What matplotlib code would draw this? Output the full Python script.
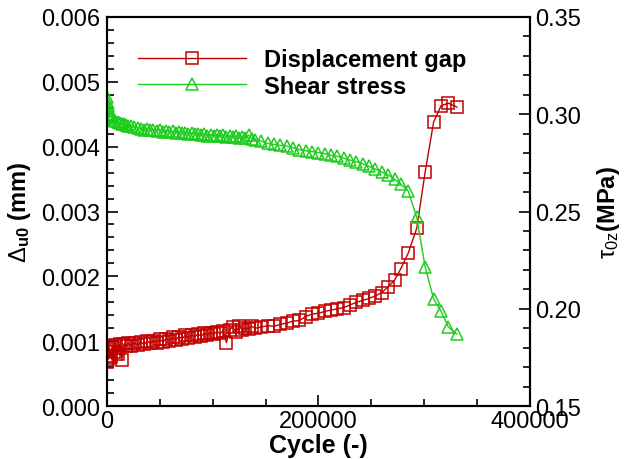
import matplotlib
matplotlib.use('Agg')
import matplotlib.pyplot as plt
from matplotlib.ticker import MultipleLocator, FormatStrFormatter

plt.rcParams['font.family'] = ['Liberation Sans', 'DejaVu Sans']
plt.rcParams['mathtext.fontset'] = 'custom'
plt.rcParams['mathtext.rm'] = 'Liberation Sans'
plt.rcParams['mathtext.it'] = 'Liberation Sans:italic'
plt.rcParams['mathtext.bf'] = 'Liberation Sans:bold'

# Cycle count for each recorded point
cycles = [0, 500, 1000, 1500, 2000, 3000, 4000, 5000, 6500, 8000,
          10000, 12000, 14000, 16000, 18000, 20000, 23000, 26000, 29000, 32000,
          35000, 38000, 41000, 44000, 47000, 50000, 53000, 56000, 59000, 62000,
          65000, 68000, 71000, 74000, 77000, 80000, 83000, 86000, 89000, 92000,
          95000, 98000, 101000, 104000, 107000, 110000, 113000, 116000, 119000, 122000,
          125000, 128000, 131000, 134000, 137000, 140000, 146000, 152000, 158000, 164000,
          170000, 176000, 182000, 188000, 194000, 200000, 206000, 212000, 218000, 224000,
          230000, 236000, 242000, 248000, 254000, 260000, 266000, 272000, 278000, 285000,
          293000, 301000, 309000, 316000, 323000, 331000]

# Displacement gap (mm)
gap = [0.00068, 0.00085, 0.00072, 0.00090, 0.00078, 0.00088, 0.00075, 0.00092, 0.00083, 0.00094,
       0.00080, 0.00095, 0.00071, 0.00096, 0.00092, 0.00097, 0.00093, 0.00098, 0.00094, 0.00099,
       0.00095, 0.00100, 0.00097, 0.00101, 0.00098, 0.00103, 0.00099, 0.00104, 0.00101, 0.00106,
       0.00102, 0.00107, 0.00104, 0.00109, 0.00105, 0.00110, 0.00107, 0.00111, 0.00108, 0.00112,
       0.00110, 0.00113, 0.00111, 0.00115, 0.00112, 0.00116, 0.00098, 0.00118, 0.00122, 0.00114,
       0.00124, 0.00117, 0.00121, 0.00119, 0.00123, 0.00120, 0.00122, 0.00124, 0.00123, 0.00126,
       0.00128, 0.00131, 0.00132, 0.00138, 0.00142, 0.00143, 0.00146, 0.00148, 0.00150, 0.00152,
       0.00156, 0.00160, 0.00163, 0.00166, 0.00170, 0.00175, 0.00184, 0.00194, 0.00212, 0.00236,
       0.00274, 0.00361, 0.00438, 0.00463, 0.00467, 0.00461]

# Shear stress (MPa)
stress = [0.3090, 0.3060, 0.3040, 0.3020, 0.3000, 0.2990, 0.2985, 0.2980, 0.2970, 0.2965,
          0.2960, 0.2955, 0.2950, 0.2948, 0.2945, 0.2940, 0.2937, 0.2933, 0.2930, 0.2926,
          0.2920, 0.2924, 0.2917, 0.2921, 0.2914, 0.2918, 0.2911, 0.2915, 0.2908, 0.2912,
          0.2905, 0.2909, 0.2902, 0.2906, 0.2899, 0.2903, 0.2896, 0.2900, 0.2893, 0.2897,
          0.2890, 0.2895, 0.2888, 0.2893, 0.2886, 0.2891, 0.2884, 0.2889, 0.2881, 0.2886,
          0.2879, 0.2884, 0.2877, 0.2893, 0.2874, 0.2870, 0.2862, 0.2850, 0.2845, 0.2840,
          0.2836, 0.2828, 0.2818, 0.2812, 0.2808, 0.2803, 0.2797, 0.2789, 0.2783, 0.2774,
          0.2764, 0.2756, 0.2745, 0.2732, 0.2718, 0.2703, 0.2688, 0.2666, 0.2640, 0.2605,
          0.2470, 0.2215, 0.2050, 0.1988, 0.1906, 0.1870]

red = '#C00000'
green = '#1ECC1E'

fig = plt.figure(figsize=(6.33, 4.6), dpi=100)
ax = fig.add_axes([0.169, 0.115, 0.668, 0.846])
ax2 = ax.twinx()

l1, = ax.plot(cycles, gap, color=red, lw=1, marker='s', ms=8, mfc='none',
              mec=red, mew=1.1, label='Displacement gap')
l2, = ax2.plot(cycles, stress, color=green, lw=1, marker='^', ms=8.5, mfc='none',
               mec=green, mew=1.1, label='Shear stress')

ax.set_xlim(0, 400000)
ax.set_ylim(0, 0.006)
ax2.set_ylim(0.15, 0.35)

ax.xaxis.set_major_locator(MultipleLocator(200000))
ax.xaxis.set_minor_locator(MultipleLocator(50000))
ax.yaxis.set_major_locator(MultipleLocator(0.001))
ax.yaxis.set_minor_locator(MultipleLocator(0.0002))
ax2.yaxis.set_major_locator(MultipleLocator(0.05))
ax2.yaxis.set_minor_locator(MultipleLocator(0.01))
ax.yaxis.set_major_formatter(FormatStrFormatter('%.3f'))
ax2.yaxis.set_major_formatter(FormatStrFormatter('%.2f'))
ax.xaxis.set_major_formatter(FormatStrFormatter('%d'))

ax.tick_params(axis='both', which='both', direction='in', top=False, right=False,
               labelsize=17, width=1.2)
ax.tick_params(axis='both', which='major', length=8)
ax.tick_params(axis='both', which='minor', length=5)
ax.tick_params(axis='y', pad=5)
ax.tick_params(axis='x', pad=3)
ax2.tick_params(axis='y', which='both', direction='in', labelsize=17, width=1.2, pad=4)
ax2.tick_params(axis='y', which='major', length=8)
ax2.tick_params(axis='y', which='minor', length=5)

for a in (ax, ax2):
    for s in a.spines.values():
        s.set_linewidth(1.5)

ax.set_xlabel('Cycle (-)', fontsize=18, fontweight='bold')
ax.xaxis.set_label_coords(0.5, -0.07)
ax.set_ylabel(r'$\Delta_{\mathbf{u0}}$ (mm)', fontsize=17, fontweight='bold')
ax.yaxis.set_label_coords(-0.175, 0.5)
ax2.set_ylabel(r'$\mathrm{\tau_{0z}}$(MPa)', fontsize=17, fontweight='bold')
ax2.yaxis.set_label_coords(1.155, 0.5)

leg = ax2.legend(handles=[l1, l2], loc='upper left', bbox_to_anchor=(0.073, 0.92),
                 frameon=False, borderpad=0, borderaxespad=0, handlelength=4.6,
                 handletextpad=0.75, labelspacing=0.15, prop={'size': 17, 'weight': 'bold'})

fig.savefig('out.png', dpi=100)
